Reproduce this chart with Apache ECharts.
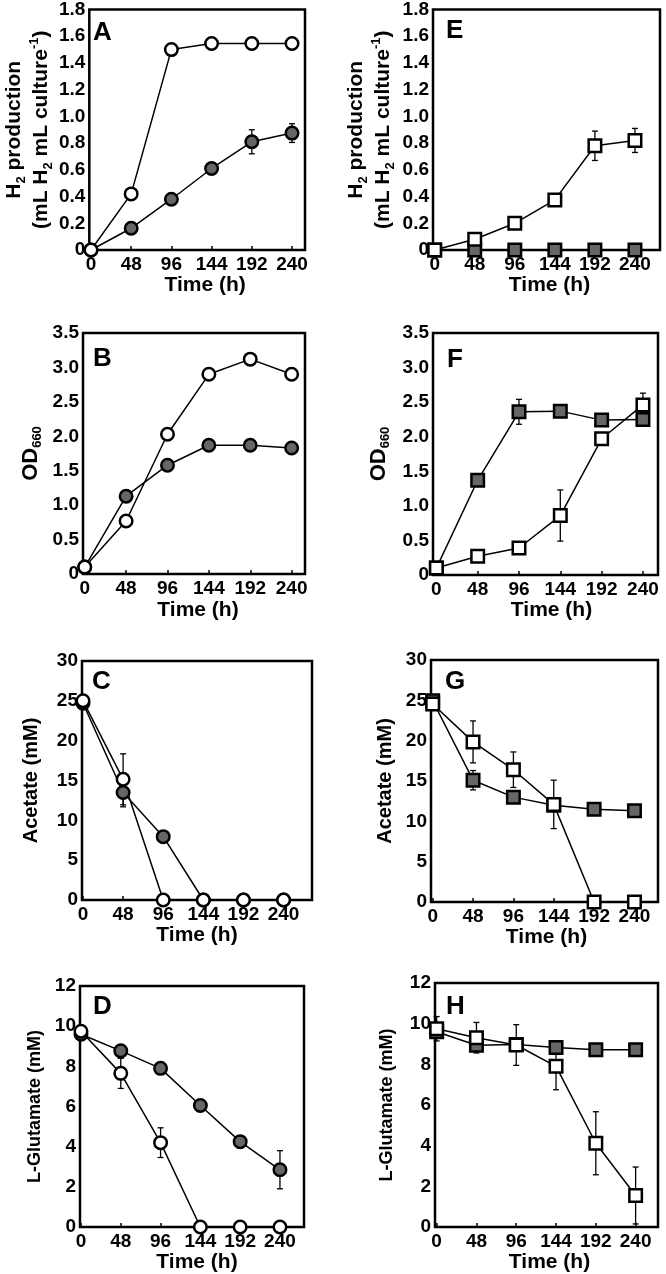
<!DOCTYPE html>
<html><head><meta charset="utf-8">
<script src="https://cdn.jsdelivr.net/npm/echarts@6/dist/echarts.min.js"></script>
<style>html,body{margin:0;padding:0;background:#fff}#c{width:666px;height:1274px}</style>
</head><body><div id="c"></div>
<script>
// ---------- data ----------
const times = [0, 48, 96, 144, 192, 240];
const timeTicks = [0, 48, 96, 144, 192, 240];

// Panel A – H2 production (circles)
const aClosed = [0, 0.163, 0.38, 0.61, 0.81, 0.875];
const aClosedErr = [0, 0, 0, 0.02, 0.09, 0.07];
const aOpen = [0, 0.42, 1.50, 1.545, 1.545, 1.545];
const aOpenErr = [0, 0, 0, 0, 0, 0];
// Panel B – OD660 (circles)
const bClosed = [0.1, 1.13, 1.58, 1.87, 1.87, 1.83];
const bClosedErr = [0, 0, 0, 0, 0, 0];
const bOpen = [0.1, 0.77, 2.03, 2.90, 3.12, 2.90];
const bOpenErr = [0, 0, 0, 0, 0, 0];
// Panel C – Acetate (circles)
const cClosed = [24.7, 13.5, 7.95, 0, 0, 0];
const cClosedErr = [0, 1.8, 0, 0, 0, 0];
const cOpen = [25.0, 15.15, 0, 0, 0, 0];
const cOpenErr = [0, 3.2, 0, 0, 0, 0];
// Panel D – L-Glutamate (circles)
const dClosed = [9.6, 8.77, 7.90, 6.05, 4.25, 2.85];
const dClosedErr = [0, 0.3, 0, 0, 0, 0.95];
const dOpen = [9.75, 7.65, 4.2, 0, 0, 0];
const dOpenErr = [0, 0.75, 0.74, 0, 0, 0];
// Panel E – H2 production (squares)
const eClosed = [0, 0, 0, 0, 0, 0];
const eClosedErr = [0, 0, 0, 0, 0, 0];
const eOpen = [0, 0.08, 0.20, 0.375, 0.78, 0.82];
const eOpenErr = [0, 0, 0, 0.03, 0.11, 0.09];
// Panel F – OD660 (squares)
const fClosed = [0.1, 1.37, 2.36, 2.37, 2.24, 2.25];
const fClosedErr = [0, 0, 0.18, 0, 0.03, 0.03];
const fOpen = [0.1, 0.27, 0.39, 0.86, 1.97, 2.46];
const fOpenErr = [0, 0, 0, 0.37, 0.05, 0.17];
// Panel G – Acetate (squares)
const gClosed = [24.95, 15.1, 13.0, 12.0, 11.5, 11.3];
const gClosedErr = [0, 1.2, 0, 0, 0, 0];
const gOpen = [24.55, 19.85, 16.4, 12.1, 0, 0];
const gOpenErr = [0, 2.6, 2.2, 3.0, 0, 0];
// Panel H – L-Glutamate (squares)
const hClosed = [9.6, 8.94, 8.97, 8.83, 8.72, 8.72];
const hClosedErr = [0.3, 0.25, 0, 0, 0, 0];
const hOpen = [9.75, 9.31, 8.95, 7.9, 4.12, 1.55];
const hOpenErr = [0.6, 0.75, 1.0, 1.15, 1.55, 1.4];

const panelLetters = ['A', 'B', 'C', 'D', 'E', 'F', 'G', 'H'];

// ---------- layout / style ----------
const FF = '"Liberation Sans", Arial, Helvetica, sans-serif';
const GRAY = '#666666';
const grids = [
  {left: 83, top: 8, width: 222, height: 242},
  {left: 83, top: 333, width: 222, height: 241},
  {left: 82, top: 661, width: 230, height: 239},
  {left: 80, top: 986, width: 224, height: 241},
  {left: 433, top: 8, width: 227, height: 242},
  {left: 433, top: 333, width: 225, height: 242},
  {left: 431, top: 660, width: 227, height: 242},
  {left: 435, top: 983, width: 223, height: 244}
];
const xRange = [[-2, 255.5], [-2, 255.5], [-1.2, 274], [-1.2, 269], [-2, 270], [-3.9, 257.5], [-2, 268], [-2, 267]];
const xNameGap = [25, 26, 23, 23, 21, 23, 22, 22];
const xNameShift = [16, 8, 0, 10, 6, 12, 4, 6];
const letterPos = [[93, 20], [93, 346], [92, 669], [93, 994], [446, 18], [447, 347], [445, 669], [446, 994]];

const h2Name = '{b|H}{s|2}{b| production}\n{b|(mL H}{s|2}{b| mL culture}{p|-1}{b|)}';
const odName = '{b|OD}{s|660}';
function richH2() {
  return {
    b: {fontSize: 21, fontWeight: 'bold', fontFamily: FF, color: '#000', lineHeight: 27},
    s: {fontSize: 13, fontWeight: 'bold', fontFamily: FF, color: '#000', verticalAlign: 'bottom'},
    p: {fontSize: 13, fontWeight: 'bold', fontFamily: FF, color: '#000', verticalAlign: 'top'}
  };
}
function richOD() {
  return {
    b: {fontSize: 22, fontWeight: 'bold', fontFamily: FF, color: '#000', lineHeight: 24},
    s: {fontSize: 13, fontWeight: 'bold', fontFamily: FF, color: '#000', verticalAlign: 'bottom'}
  };
}
const yDefs = [
  {max: 1.8, interval: 0.2, dec: 1, name: h2Name, rich: richH2(), gap: 34, fs: 21},
  {max: 3.5, interval: 0.5, dec: 1, name: odName, rich: richOD(), gap: 39, fs: 22},
  {max: 30, interval: 5, dec: 0, name: 'Acetate (mM)', rich: null, gap: 37, fs: 20},
  {max: 12, interval: 2, dec: 0, name: 'L-Glutamate (mM)', rich: null, gap: 31, fs: 18},
  {max: 1.8, interval: 0.2, dec: 1, name: h2Name, rich: richH2(), gap: 36, fs: 21},
  {max: 3.5, interval: 0.5, dec: 1, name: odName, rich: richOD(), gap: 41, fs: 22},
  {max: 30, interval: 5, dec: 0, name: 'Acetate (mM)', rich: null, gap: 32, fs: 20},
  {max: 12, interval: 2, dec: 0, name: 'L-Glutamate (mM)', rich: null, gap: 34, fs: 18}
];

const panels = [
  [aClosed, aClosedErr, aOpen, aOpenErr, 'circle'],
  [bClosed, bClosedErr, bOpen, bOpenErr, 'circle'],
  [cClosed, cClosedErr, cOpen, cOpenErr, 'circle'],
  [dClosed, dClosedErr, dOpen, dOpenErr, 'circle'],
  [eClosed, eClosedErr, eOpen, eOpenErr, 'rect'],
  [fClosed, fClosedErr, fOpen, fOpenErr, 'rect'],
  [gClosed, gClosedErr, gOpen, gOpenErr, 'rect'],
  [hClosed, hClosedErr, hOpen, hOpenErr, 'rect']
];

function errSeries(gi, vals, errs) {
  const data = [];
  times.forEach((t, i) => { if (errs[i] > 0) data.push([t, vals[i], errs[i]]); });
  return {
    type: 'custom', xAxisIndex: gi, yAxisIndex: gi, z: 1, silent: true, animation: false, clip: false,
    renderItem: function (params, api) {
      const x = api.value(0), y = api.value(1), e = api.value(2);
      const top = api.coord([x, y + e]), bot = api.coord([x, y - e]);
      const w = 3, st = {stroke: '#000', lineWidth: 1.3};
      return {type: 'group', children: [
        {type: 'line', shape: {x1: top[0], y1: top[1], x2: bot[0], y2: bot[1]}, style: st},
        {type: 'line', shape: {x1: top[0] - w, y1: top[1], x2: top[0] + w, y2: top[1]}, style: st},
        {type: 'line', shape: {x1: bot[0] - w, y1: bot[1], x2: bot[0] + w, y2: bot[1]}, style: st}
      ]};
    },
    data: data
  };
}
function lineSeries(gi, vals) {
  return {type: 'line', xAxisIndex: gi, yAxisIndex: gi, z: 2, symbol: 'none', animation: false,
    lineStyle: {color: '#000', width: 1.5}, data: times.map((t, i) => [t, vals[i]])};
}
function markSeries(gi, vals, sym, fill, z) {
  return {type: 'scatter', xAxisIndex: gi, yAxisIndex: gi, z: z, symbol: sym, symbolSize: 12.5, animation: false,
    itemStyle: {color: fill, borderColor: '#000', borderWidth: 2.5, opacity: 1},
    data: times.map((t, i) => [t, vals[i]])};
}

const series = [];
panels.forEach((p, gi) => {
  series.push(errSeries(gi, p[0], p[1]));
  series.push(errSeries(gi, p[2], p[3]));
  series.push(lineSeries(gi, p[0]));
  series.push(lineSeries(gi, p[2]));
  series.push(markSeries(gi, p[0], p[4], GRAY, 4));
  series.push(markSeries(gi, p[2], p[4], '#fff', 5));
});

const option = {
  backgroundColor: '#fff',
  animation: false,
  title: panelLetters.map((L, i) => ({text: L, left: letterPos[i][0], top: letterPos[i][1], padding: 0,
    textStyle: {fontSize: 26, fontWeight: 'bold', fontFamily: FF, color: '#000'}})),
  grid: grids.map(g => Object.assign({show: true, borderColor: '#000', borderWidth: 2.5, backgroundColor: 'transparent', containLabel: false}, g)),
  xAxis: grids.map((g, i) => ({
    type: 'value', gridIndex: i, min: xRange[i][0], max: xRange[i][1],
    axisLine: {show: false}, splitLine: {show: false},
    axisTick: {show: true, inside: true, length: 4, customValues: timeTicks, lineStyle: {color: '#000', width: 1.5}},
    axisLabel: {customValues: timeTicks, margin: 5, color: '#000', fontSize: 19, fontWeight: 'bold', fontFamily: FF},
    name: 'Time (h)', nameLocation: 'middle', nameGap: xNameGap[i],
    nameTextStyle: {color: '#000', fontSize: 21, fontWeight: 'bold', fontFamily: FF, padding: [0, 0, 0, xNameShift[i]]}
  })),
  yAxis: yDefs.map((d, i) => ({
    type: 'value', gridIndex: i, min: 0, max: d.max, interval: d.interval,
    axisLine: {show: false}, splitLine: {show: false}, axisTick: {show: false},
    axisLabel: {margin: 4, color: '#000', fontSize: 19, fontWeight: 'bold', fontFamily: FF,
      formatter: v => (Math.abs(v) < 1e-9 ? '0' : v.toFixed(d.dec))},
    name: d.name, nameLocation: 'middle', nameGap: d.gap,
    nameTextStyle: Object.assign({color: '#000', fontSize: d.fs, fontWeight: 'bold', fontFamily: FF, lineHeight: 27},
      d.rich ? {rich: d.rich} : {})
  })),
  series: series
};
const chart = echarts.init(document.getElementById('c'), null, {renderer: 'canvas'});
chart.setOption(option);
</script></body></html>
